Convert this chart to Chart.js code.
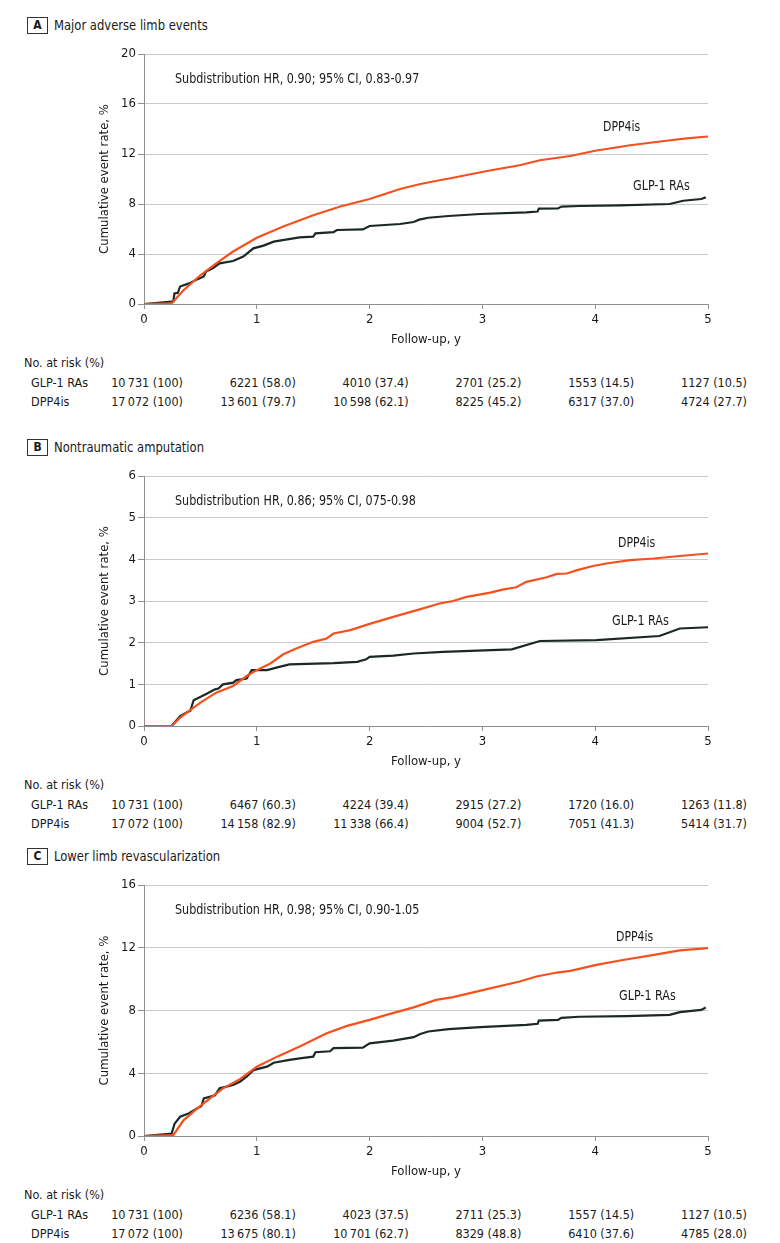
<!DOCTYPE html>
<html>
<head>
<meta charset="utf-8">
<script src="https://cdn.jsdelivr.net/npm/chart.js@4.4.0/dist/chart.umd.min.js"></script>
<style>
  body { margin: 0; background: #fff; }
  #page { position: relative; width: 780px; height: 1243px; overflow: hidden;
          font-family: "Liberation Sans Narrow", "DejaVu Sans Condensed", sans-serif; color: #1a1a1a; }
  .t { position: absolute; white-space: nowrap; line-height: 1; }
  canvas { position: absolute; left: 0; }
  .tag { position: absolute; width: 19px; height: 15px; border: 1px solid #333; text-align: center;
         font-weight: bold; font-size: 12px; line-height: 15px; }
</style>
</head>
<body>
<div id="page"></div>
<script>
// follow-up years and group names
const years = [0, 1, 2, 3, 4, 5];
const groups = ["GLP-1 RAs", "DPP4is"];

// A: major adverse limb events, [year, cumulative %]
const limbGlp = [[0,0],[0.245,0.2],[0.26,0.2],[0.27,0.85],[0.3,0.9],[0.32,1.4],[0.4,1.65],[0.47,1.97],[0.53,2.2],[0.55,2.6],
  [0.61,2.85],[0.67,3.25],[0.79,3.44],[0.88,3.8],[0.97,4.45],[1.06,4.67],[1.15,4.99],[1.27,5.17],[1.38,5.33],[1.5,5.39],
  [1.52,5.65],[1.68,5.75],[1.71,5.92],[1.94,5.97],[2.0,6.24],[2.27,6.4],[2.39,6.56],[2.44,6.75],[2.52,6.9],[2.7,7.04],
  [2.98,7.2],[3.39,7.33],[3.49,7.4],[3.5,7.63],[3.67,7.65],[3.7,7.79],[3.86,7.84],[4.22,7.89],[4.66,8.0],[4.78,8.26],
  [4.94,8.4],[4.98,8.53]];
const limbDpp = [[0,0],[0.245,0.05],[0.35,1.1],[0.5,2.3],[0.64,3.25],[0.79,4.2],[1.0,5.3],[1.235,6.2],[1.5,7.1],[1.74,7.8],
  [2.0,8.4],[2.27,9.2],[2.45,9.6],[2.62,9.9],[2.74,10.1],[3.04,10.64],[3.33,11.1],[3.51,11.5],[3.78,11.84],[4.0,12.26],
  [4.31,12.7],[4.63,13.06],[4.81,13.25],[5.0,13.4]];
const limbRiskGlp = [10731, 6221, 4010, 2701, 1553, 1127];
const limbPctGlp = [100, 58.0, 37.4, 25.2, 14.5, 10.5];
const limbRiskDpp = [17072, 13601, 10598, 8225, 6317, 4724];
const limbPctDpp = [100, 79.7, 62.1, 45.2, 37.0, 27.7];

// B: nontraumatic amputation
const amputGlp = [[0,0],[0.245,0],[0.32,0.24],[0.39,0.34],[0.41,0.36],[0.44,0.62],[0.56,0.78],[0.63,0.88],[0.66,0.9],
  [0.7,1.0],[0.79,1.04],[0.82,1.1],[0.91,1.14],[0.955,1.34],[1.09,1.34],[1.2,1.42],[1.29,1.48],[1.68,1.51],[1.89,1.54],
  [1.97,1.6],[2.0,1.66],[2.21,1.69],[2.39,1.74],[2.65,1.78],[3.26,1.84],[3.51,2.04],[4.01,2.06],[4.57,2.16],[4.75,2.34],[5.0,2.37]];
const amputDpp = [[0,0],[0.245,0],[0.32,0.2],[0.41,0.38],[0.5,0.56],[0.64,0.8],[0.79,0.96],[0.91,1.2],[1.0,1.34],[1.12,1.5],
  [1.235,1.72],[1.35,1.86],[1.5,2.02],[1.62,2.1],[1.68,2.22],[1.83,2.3],[2.0,2.45],[2.21,2.62],[2.42,2.78],[2.62,2.94],
  [2.74,3.0],[2.86,3.1],[3.07,3.2],[3.19,3.28],[3.3,3.33],[3.39,3.46],[3.57,3.57],[3.66,3.65],[3.75,3.66],[3.84,3.74],
  [3.98,3.84],[4.1,3.9],[4.31,3.98],[4.52,4.02],[4.75,4.08],[5.0,4.14]];
const amputRiskGlp = [10731, 6467, 4224, 2915, 1720, 1263];
const amputPctGlp = [100, 60.3, 39.4, 27.2, 16.0, 11.8];
const amputRiskDpp = [17072, 14158, 11338, 9004, 7051, 5414];
const amputPctDpp = [100, 82.9, 66.4, 52.7, 41.3, 31.7];

// C: lower limb revascularization
const revascGlp = [[0,0],[0.245,0.15],[0.27,0.77],[0.32,1.23],[0.4,1.45],[0.47,1.75],[0.51,1.91],[0.53,2.4],[0.63,2.6],
  [0.67,3.04],[0.79,3.25],[0.85,3.46],[0.91,3.78],[0.97,4.2],[1.09,4.42],[1.15,4.67],[1.29,4.85],[1.38,4.95],[1.5,5.06],
  [1.52,5.34],[1.65,5.4],[1.68,5.6],[1.94,5.63],[2.0,5.91],[2.21,6.08],[2.39,6.3],[2.45,6.5],[2.52,6.66],[2.7,6.81],
  [2.98,6.94],[3.39,7.08],[3.49,7.15],[3.5,7.36],[3.67,7.4],[3.7,7.53],[3.86,7.6],[4.28,7.64],[4.66,7.72],[4.75,7.9],
  [4.94,8.04],[4.98,8.19]];
const revascDpp = [[0,0],[0.26,0.05],[0.35,1.0],[0.47,1.75],[0.585,2.4],[0.7,3.04],[0.85,3.62],[1.0,4.42],[1.18,5.06],
  [1.38,5.7],[1.62,6.55],[1.8,7.02],[2.0,7.4],[2.15,7.72],[2.39,8.2],[2.59,8.68],[2.74,8.85],[3.04,9.36],[3.33,9.85],
  [3.48,10.17],[3.66,10.42],[3.78,10.53],[4.01,10.91],[4.22,11.19],[4.52,11.55],[4.75,11.83],[5.0,11.98]];
const revascRiskGlp = [10731, 6236, 4023, 2711, 1557, 1127];
const revascPctGlp = [100, 58.1, 37.5, 25.3, 14.5, 10.5];
const revascRiskDpp = [17072, 13675, 10701, 8329, 6410, 4785];
const revascPctDpp = [100, 80.1, 62.7, 48.8, 37.6, 28.0];

const ORANGE = "#f4511e";
const DARK = "#1a2826";
const AXIS = "#8f8f8f";
const GRID = "#c9c9c9";

// layout of each panel (pixel positions of plot top and labels)
const panels = [
  { tag: "A", title: "Major adverse limb events", hr: "Subdistribution HR, 0.90; 95% CI, 0.83-0.97",
    top: 54, height: 250, ymax: 20, ystep: 4, glp: limbGlp, dpp: limbDpp,
    risk: [[limbRiskGlp, limbPctGlp], [limbRiskDpp, limbPctDpp]], dppAt: [603, 127], glpAt: [633, 186] },
  { tag: "B", title: "Nontraumatic amputation", hr: "Subdistribution HR, 0.86; 95% CI, 075-0.98",
    top: 476, height: 250, ymax: 6, ystep: 1, glp: amputGlp, dpp: amputDpp,
    risk: [[amputRiskGlp, amputPctGlp], [amputRiskDpp, amputPctDpp]], dppAt: [618, 543], glpAt: [612, 621] },
  { tag: "C", title: "Lower limb revascularization", hr: "Subdistribution HR, 0.98; 95% CI, 0.90-1.05",
    top: 885, height: 251, ymax: 16, ystep: 4, glp: revascGlp, dpp: revascDpp,
    risk: [[revascRiskGlp, revascPctGlp], [revascRiskDpp, revascPctDpp]], dppAt: [616, 937], glpAt: [619, 996] },
];

Chart.defaults.font.family = '"Liberation Sans Narrow", "DejaVu Sans Condensed", sans-serif';
Chart.defaults.font.size = 13;
Chart.defaults.color = "#1a1a1a";

const page = document.getElementById("page");

// squeeze: horizontal condensing to get near the narrow journal face
function text(str, x, y, size, align, squeeze) {
  const d = document.createElement("div");
  d.className = "t";
  d.textContent = str;
  d.style.left = x + "px";
  d.style.top = y + "px";
  d.style.fontSize = size + "px";
  const sx = squeeze ? " scaleX(" + squeeze + ")" : "";
  if (align === "right") {
    d.style.transformOrigin = "right center";
    d.style.transform = "translate(-100%,-50%)" + sx;
  } else {
    d.style.transformOrigin = "left center";
    d.style.transform = "translateY(-50%)" + sx;
  }
  page.appendChild(d);
  return d;
}

// 10731 -> "10 731" with a thin space, like the journal style
function fmtN(n) {
  const s = String(n);
  return n >= 10000 ? s.slice(0, s.length - 3) + "\u2009" + s.slice(-3) : s;
}
function fmtPct(p) {
  return p === 100 ? "100" : p.toFixed(1);
}

panels.forEach(p => {
  const pad = 16, xAxisH = 45;
  const canvas = document.createElement("canvas");
  canvas.width = 780;
  canvas.height = pad + p.height + xAxisH;
  canvas.style.top = (p.top - pad) + "px";
  page.appendChild(canvas);

  const tag = document.createElement("div");
  tag.className = "tag";
  tag.textContent = p.tag;
  tag.style.left = "27px";
  tag.style.top = (p.top - 37) + "px";
  page.appendChild(tag);
  text(p.title, 54, p.top - 29, 14, null, 0.92);
  text(p.hr, 175, p.top + 25, 13.5, null, 0.92);
  text("DPP4is", p.dppAt[0], p.dppAt[1], 13.5, null, 0.9);
  text("GLP-1 RAs", p.glpAt[0], p.glpAt[1], 13.5, null, 0.92);

  const chart = new Chart(canvas, {
    type: "line",
    data: {
      datasets: [
        { label: groups[1], data: p.dpp.map(([x, y]) => ({ x, y })), borderColor: ORANGE,
          borderWidth: 2.2, pointRadius: 0, tension: 0 },
        { label: groups[0], data: p.glp.map(([x, y]) => ({ x, y })), borderColor: DARK,
          borderWidth: 2.2, pointRadius: 0, tension: 0 },
      ],
    },
    options: {
      responsive: false,
      animation: false,
      layout: { padding: { top: pad, left: 0, right: 72, bottom: 0 } },
      plugins: { legend: { display: false }, tooltip: { enabled: false } },
      scales: {
        x: {
          type: "linear", min: 0, max: 5,
          afterBuildTicks: s => { s.ticks = years.map(v => ({ value: v })); },
          ticks: { padding: 3 },
          grid: { drawOnChartArea: false, tickLength: 5, tickColor: AXIS },
          border: { color: AXIS, width: 1 },
          title: { display: true, text: "Follow-up, y", padding: { top: 0, bottom: 2 } },
          afterFit: s => { s.height = xAxisH; },
        },
        y: {
          min: 0, max: p.ymax,
          ticks: { stepSize: p.ystep, padding: 2 },
          grid: { color: GRID, tickColor: AXIS, tickLength: 6 },
          border: { color: AXIS, width: 1 },
          title: { display: true, text: "Cumulative event rate, %", padding: { top: 97, bottom: 0 } },
          afterFit: s => { s.width = 144; },
        },
      },
    },
  });

  // number at risk table under each plot, aligned to the x ticks
  const base = p.top + p.height;
  text("No. at risk (%)", 24, base + 59, 12.5);
  p.risk.forEach(([ns, pcts], g) => {
    const y = base + 79 + g * 19;
    text(groups[g], 31, y, 12.5);
    years.forEach((yr, i) => {
      const x = chart.scales.x.getPixelForValue(yr) + 39;
      text(fmtN(ns[i]) + " (" + fmtPct(pcts[i]) + ")", x, y, 12.5, "right");
    });
  });
});
</script>
</body>
</html>
